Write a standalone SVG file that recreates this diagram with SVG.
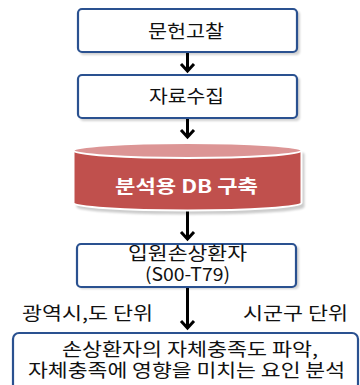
<svg xmlns="http://www.w3.org/2000/svg" width="360" height="385" viewBox="0 0 360 385">
<defs>
<style>
.box{fill:#ffffff;stroke:#2a5190;stroke-width:2.2}
.sh{fill:#000;opacity:0.18}
.t{font-family:"Malgun Gothic","Noto Sans CJK KR","Noto Sans",sans-serif;font-size:18px;fill:#111}
.db{font-family:"Malgun Gothic","Noto Sans CJK KR","Noto Sans",sans-serif;font-size:18px;font-weight:bold;fill:#fff}
.arr{fill:none;stroke:#000;stroke-width:3}
</style>
<filter id="blur" x="-10%" y="-10%" width="120%" height="130%"><feGaussianBlur stdDeviation="1.2"/></filter>
</defs>
<g id="connectors">
<path class="arr" d="M187.5 53 V71 M181 64 L187.5 71 L194 64"/>
<path class="arr" d="M187.5 118 V137 M181 130 L187.5 137 L194 130"/>
<path class="arr" d="M187.5 211 V239 M181 232 L187.5 239 L194 232"/>
<path class="arr" d="M187.5 287 V328 M181 321 L187.5 328 L194 321"/>
</g>
<g id="n1">
<rect class="sh" x="80" y="11" width="220" height="44" rx="4" filter="url(#blur)"/>
<rect class="box" x="78" y="9" width="219" height="43" rx="4"/>
<text class="t" x="148" y="38" textLength="76" lengthAdjust="spacingAndGlyphs">문헌고찰</text>
</g>
<g id="n2">
<rect class="sh" x="80" y="77" width="220" height="44" rx="4" filter="url(#blur)"/>
<rect class="box" x="78" y="75" width="219" height="43" rx="4"/>
<text class="t" x="149" y="103" textLength="75" lengthAdjust="spacingAndGlyphs">자료수집</text>
</g>
<g id="n3">
<path d="M75 152 A114 7.5 0 0 1 303 152 V205 A114 7.5 0 0 1 75 205 Z" fill="#000" opacity="0.2" filter="url(#blur)" transform="translate(1.5,2)"/>
<path d="M73.5 150.5 V203 A114 7.5 0 0 0 301.5 203 V150.5 Z" fill="#c0504d" stroke="#fff" stroke-width="2"/>
<ellipse cx="187.5" cy="150.5" rx="114" ry="7.5" fill="#dc9595" stroke="#fff" stroke-width="2"/>
<text class="db" x="115" y="193" textLength="143" lengthAdjust="spacingAndGlyphs">분석용 DB 구축</text>
</g>
<g id="n4">
<rect class="sh" x="79" y="246" width="220" height="43" rx="4" filter="url(#blur)"/>
<rect class="box" x="77" y="244" width="219" height="43" rx="4"/>
<text class="t" x="128" y="260" textLength="119" lengthAdjust="spacingAndGlyphs">입원손상환자</text>
<text class="t" x="145" y="281" textLength="85" lengthAdjust="spacingAndGlyphs">(S00-T79)</text>
</g>
<g id="labels">
<text class="t" x="22" y="320" textLength="131" lengthAdjust="spacingAndGlyphs">광역시,도 단위</text>
<text class="t" x="243" y="320" textLength="105" lengthAdjust="spacingAndGlyphs">시군구 단위</text>
</g>
<g id="n5">
<rect class="box" x="13" y="333" width="345" height="70" rx="6"/>
<text class="t" x="62" y="356" textLength="256" lengthAdjust="spacingAndGlyphs">손상환자의 자체충족도 파악,</text>
<text class="t" x="28" y="377" textLength="317" lengthAdjust="spacingAndGlyphs">자체충족에 영향을 미치는 요인 분석</text>
</g>
</svg>
